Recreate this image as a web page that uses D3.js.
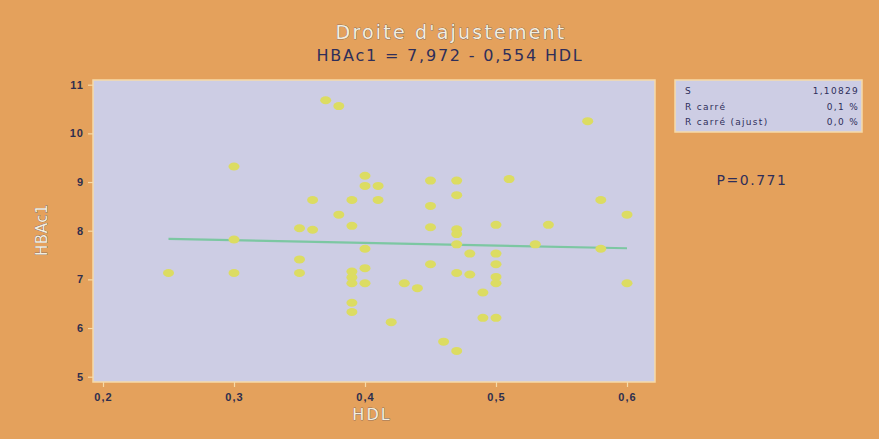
<!DOCTYPE html>
<html lang="fr">
<head>
<meta charset="UTF-8">
<title>Droite d'ajustement</title>
<script src="https://d3js.org/d3.v7.min.js"></script>
<style>
body { margin: 0; background: #E4A15C; }
svg { display: block; font-family: 'DejaVu Sans', sans-serif; }
.axis path { display: none; }
.axis line { stroke: #F6DAA8; stroke-width: 1.2px; }
.axis text { fill: #2E2E4E; font-size: 11px; font-weight: bold; letter-spacing: 1px; }
.light { fill: #F3EEDF; stroke: #3A3A5A; stroke-width: 0.5px; paint-order: stroke; }
.stats text { font-size: 9px; fill: #2E2E5A; letter-spacing: 1.3px; }
</style>
</head>
<body>
<div id="chart"></div>
<script>

// data
let hdl = [0.37, 0.38, 0.30, 0.40, 0.40, 0.41, 0.36, 0.39, 0.41, 0.38,
           0.35, 0.36, 0.39, 0.30, 0.40, 0.25, 0.30, 0.35, 0.35, 0.39,
           0.39, 0.39, 0.40, 0.40, 0.39, 0.39, 0.42,
           0.45, 0.47, 0.51, 0.57, 0.47, 0.45, 0.58, 0.60, 0.45, 0.47,
           0.47, 0.50, 0.54, 0.47, 0.53, 0.58, 0.48, 0.50, 0.45, 0.50,
           0.47, 0.48, 0.50, 0.50, 0.43, 0.44, 0.60, 0.49, 0.49, 0.50,
           0.46, 0.47];
let hba = [10.68, 10.56, 9.32, 9.13, 8.92, 8.92, 8.63, 8.63, 8.63, 8.33,
           8.05, 8.02, 8.10, 7.82, 7.63, 7.13, 7.13, 7.41, 7.13, 7.16,
           7.04, 6.92, 7.23, 6.92, 6.52, 6.33, 6.12,
           9.03, 9.03, 9.06, 10.25, 8.73, 8.51, 8.63, 8.33, 8.07, 8.03,
           7.93, 8.12, 8.12, 7.72, 7.72, 7.63, 7.53, 7.53, 7.31, 7.31,
           7.13, 7.10, 7.05, 6.92, 6.92, 6.82, 6.92, 6.73, 6.21, 6.21,
           5.72, 5.53];

let fitA = 7.972, fitB = -0.554;
let fitRange = [0.25, 0.60];

let xTicks = [0.2, 0.3, 0.4, 0.5, 0.6];
let yTicks = [5, 6, 7, 8, 9, 10, 11];

let statNames = ["S", "R carré", "R carré (ajust)"];
let statValues = ["1,10829", "0,1 %", "0,0 %"];

let fr = d3.formatLocale({decimal: ",", thousands: " ", grouping: [3], currency: ["", " €"]});

// --------------------------------------
// Size
// --------------------------------------
let totalWidth = 879, totalHeight = 439;
let plot = {left: 93, top: 80, right: 655, bottom: 382};

let svg = d3.select("#chart").append("svg")
    .attr("width", totalWidth)
    .attr("height", totalHeight);

svg.append("rect")
    .attr("width", totalWidth).attr("height", totalHeight)
    .attr("fill", "#E4A15C");

// --------------------------------------
// Scales
// --------------------------------------
let x = d3.scaleLinear().domain([0.2, 0.6]).range([103, 627]);
let y = d3.scaleLinear().domain([5, 11]).range([376.7, 84.7]);

// plot area
svg.append("rect")
    .attr("x", plot.left).attr("y", plot.top)
    .attr("width", plot.right - plot.left)
    .attr("height", plot.bottom - plot.top)
    .attr("fill", "#CDCDE4")
    .attr("stroke", "#F6DAA8")
    .attr("stroke-width", 1.5);

// --------------------------------------
// Axes
// --------------------------------------
svg.append("g")
    .attr("class", "axis")
    .attr("transform", `translate(0,${plot.bottom})`)
    .call(d3.axisBottom(x).tickValues(xTicks).tickSize(5).tickPadding(6)
      .tickFormat(fr.format(".1f")));

svg.append("g")
    .attr("class", "axis")
    .attr("transform", `translate(${plot.left},0)`)
    .call(d3.axisLeft(y).tickValues(yTicks).tickSize(5).tickPadding(4)
      .tickFormat(d3.format("d")));

// --------------------------------------
// Fit line and points
// --------------------------------------
let line = d3.line()
    .x(d => x(d))
    .y(d => y(fitA + fitB * d));

svg.append("path")
    .datum(fitRange)
    .attr("d", line)
    .attr("fill", "none")
    .attr("stroke", "#7CC7A2")
    .attr("stroke-width", 2.2);

svg.selectAll(".dot")
    .data(hdl.map((h, i) => ({h: h, v: hba[i]})))
    .join("ellipse")
    .attr("class", "dot")
    .attr("cx", d => x(d.h))
    .attr("cy", d => y(d.v))
    .attr("rx", 5.5)
    .attr("ry", 4)
    .attr("fill", "#DCDC62");

// --------------------------------------
// Texts
// --------------------------------------
svg.append("text")
    .attr("class", "light")
    .attr("x", 451).attr("y", 39)
    .attr("text-anchor", "middle")
    .attr("font-size", 19)
    .attr("letter-spacing", 2.2)
    .text("Droite d'ajustement");

svg.append("text")
    .attr("x", 450).attr("y", 61)
    .attr("text-anchor", "middle")
    .attr("font-size", 16)
    .attr("letter-spacing", 1.8)
    .attr("fill", "#2E2E5A")
    .text("HBAc1 = 7,972 - 0,554 HDL");

svg.append("text")
    .attr("class", "light")
    .attr("x", 372).attr("y", 420)
    .attr("text-anchor", "middle")
    .attr("font-size", 16)
    .attr("letter-spacing", 2)
    .text("HDL");

svg.append("text")
    .attr("class", "light")
    .attr("transform", "translate(47,230) rotate(-90)")
    .attr("text-anchor", "middle")
    .attr("font-size", 15)
    .attr("letter-spacing", 0.5)
    .text("HBAc1");

svg.append("text")
    .attr("x", 752).attr("y", 185)
    .attr("text-anchor", "middle")
    .attr("font-size", 14)
    .attr("letter-spacing", 1.5)
    .attr("fill", "#2E2E5A")
    .text("P=0.771");

// stats box
let stats = svg.append("g").attr("class", "stats");
stats.append("rect")
    .attr("x", 675).attr("y", 80)
    .attr("width", 187).attr("height", 52)
    .attr("fill", "#CDCDE4")
    .attr("stroke", "#F6DAA8")
    .attr("stroke-width", 1.5);

stats.selectAll(".sname")
    .data(statNames)
    .join("text")
    .attr("x", 685)
    .attr("y", (d, i) => 94 + i * 15.5)
    .text(d => d);

stats.selectAll(".sval")
    .data(statValues)
    .join("text")
    .attr("x", 859)
    .attr("y", (d, i) => 94 + i * 15.5)
    .attr("text-anchor", "end")
    .text(d => d);

</script>
</body>
</html>
